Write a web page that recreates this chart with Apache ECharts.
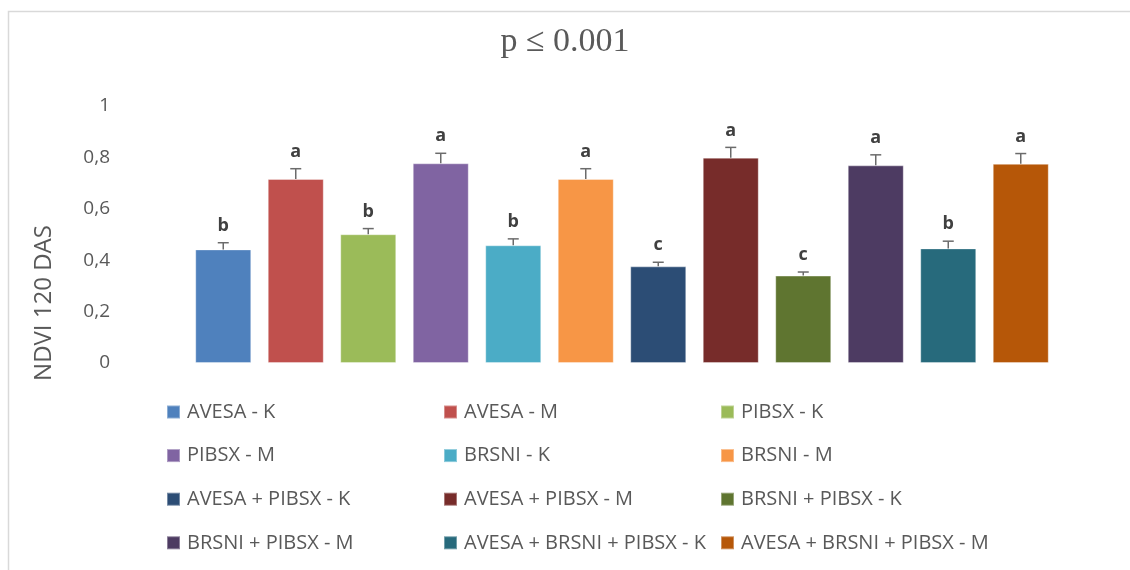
<!DOCTYPE html>
<html>
<head>
<meta charset="utf-8">
<script src="https://cdn.jsdelivr.net/npm/echarts@6/dist/echarts.min.js"></script>
<style>
  html, body { margin: 0; padding: 0; background: #fff; }
  #chart { width: 1130px; height: 570px; }
</style>
</head>
<body>
<div id="chart"></div>
<script>
// Treatments, NDVI at 120 DAS, standard errors and Tukey groups
const treatments = [
  'AVESA - K', 'AVESA - M', 'PIBSX - K', 'PIBSX - M', 'BRSNI - K', 'BRSNI - M',
  'AVESA + PIBSX - K', 'AVESA + PIBSX - M', 'BRSNI + PIBSX - K', 'BRSNI + PIBSX - M',
  'AVESA + BRSNI + PIBSX - K', 'AVESA + BRSNI + PIBSX - M'
];
const ndvi = [0.442, 0.716, 0.501, 0.777, 0.458, 0.716, 0.376, 0.799, 0.340, 0.769, 0.446, 0.775];
const stdErr = [0.026, 0.040, 0.022, 0.039, 0.025, 0.040, 0.016, 0.040, 0.014, 0.041, 0.028, 0.040];
const groups = ['b', 'a', 'b', 'a', 'b', 'a', 'c', 'a', 'c', 'a', 'b', 'a'];
const palette = ['#4F81BD', '#C0504D', '#9BBB59', '#8064A2', '#4BACC6', '#F79646',
                 '#2C4D75', '#772C2A', '#5F7530', '#4D3B62', '#276A7C', '#B65708'];
const yTicks = { min: 0, max: 1, step: 0.2 };

const TEXT = '#595959';
const FONT = 'Open Sans';

// one bar series per treatment, stacked so each sits alone in its slot
const barSeries = treatments.map((name, i) => ({
  name: name,
  type: 'bar',
  stack: 'ndvi',
  barWidth: 56,
  itemStyle: { color: palette[i], borderColor: 'rgba(255,255,255,0.35)', borderWidth: 1 },
  emphasis: { disabled: true },
  data: treatments.map((_, j) => (j === i ? ndvi[i] : '-'))
}));

// upward error bars with the group letter above them
const errorSeries = {
  type: 'custom',
  name: 'err',
  silent: true,
  z: 5,
  data: ndvi.map((v, i) => [i, v, stdErr[i]]),
  renderItem: function (params, api) {
    const i = api.value(0);
    const v = api.value(1);
    const e = api.value(2);
    const base = api.coord([i, v]);
    const top = api.coord([i, v + e]);
    const half = 5.5;
    const ls = { stroke: '#6b6b6b', lineWidth: 1.5 };
    return {
      type: 'group',
      children: [
        { type: 'line', shape: { x1: base[0], y1: base[1], x2: top[0], y2: top[1] }, style: ls },
        { type: 'line', shape: { x1: top[0] - half, y1: top[1], x2: top[0] + half, y2: top[1] }, style: ls },
        {
          type: 'text',
          style: {
            text: groups[i], x: top[0], y: top[1] - 8,
            align: 'center', verticalAlign: 'bottom',
            font: 'bold 18px "' + FONT + '"', fill: '#404040'
          }
        }
      ]
    };
  }
};

// legend laid out as three columns of four entries
const legendCols = [0, 1, 2].map(c => treatments.filter((_, i) => i % 3 === c));
const legendLeft = [166, 443, 720];

const chart = echarts.init(document.getElementById('chart'), null, { renderer: 'canvas' });
chart.setOption({
  animation: false,
  backgroundColor: '#ffffff',
  title: {
    text: 'p \u2264 0.001',
    left: 'center',
    top: 20,
    textStyle: { fontFamily: 'Liberation Serif', fontSize: 34, fontWeight: 'normal', color: TEXT }
  },
  grid: { left: 187, right: 73, top: 106, bottom: 207 },
  xAxis: {
    type: 'category',
    data: treatments,
    axisLine: { show: false },
    axisTick: { show: false },
    axisLabel: { show: false }
  },
  yAxis: {
    type: 'value',
    min: yTicks.min,
    max: yTicks.max,
    interval: yTicks.step,
    axisLine: { show: false },
    axisTick: { show: false },
    splitLine: { show: false },
    axisLabel: {
      margin: 77,
      color: TEXT,
      fontFamily: FONT,
      fontSize: 19,
      formatter: v => String(+v.toFixed(1)).replace('.', ',')
    }
  },
  legend: legendCols.map((names, c) => ({
    orient: 'vertical',
    left: legendLeft[c],
    top: 402,
    padding: 0,
    itemWidth: 13,
    itemHeight: 13,
    itemGap: 23.6,
    icon: 'rect',
    selectedMode: false,
    data: names,
    textStyle: { color: TEXT, fontFamily: FONT, fontSize: 20, lineHeight: 20, padding: [0, 0, 0, 2] }
  })),
  graphic: [
    {
      type: 'rect',
      shape: { x: 8.5, y: 11.5, width: 1200, height: 700 },
      style: { fill: 'none', stroke: '#d9d9d9', lineWidth: 1.5 },
      silent: true
    },
    {
      type: 'text',
      x: 44, y: 303,
      rotation: Math.PI / 2,
      style: {
        text: 'NDVI 120 DAS', align: 'center', verticalAlign: 'middle',
        font: '24px "' + FONT + '"', fill: TEXT
      },
      silent: true
    }
  ],
  series: barSeries.concat([errorSeries])
});
</script>
</body>
</html>
